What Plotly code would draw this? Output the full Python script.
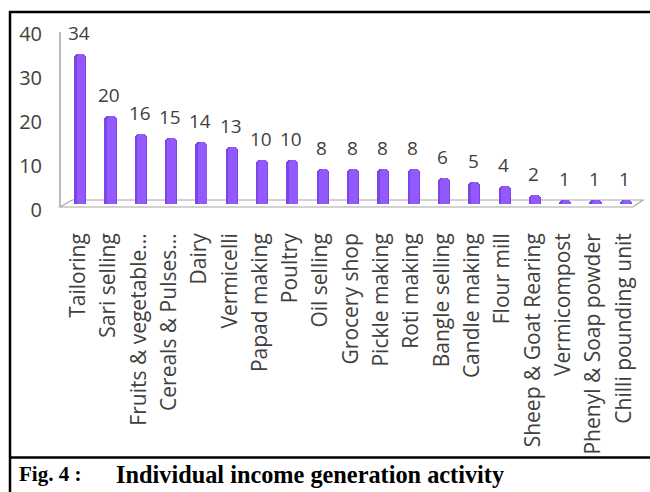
import plotly.graph_objects as go

# Income generation activities and number of individuals engaged in each
activities = [
    "Tailoring", "Sari selling", "Fruits & vegetable...", "Cereals & Pulses...",
    "Dairy", "Vermicelli", "Papad making", "Poultry", "Oil selling",
    "Grocery shop", "Pickle making", "Roti making", "Bangle selling",
    "Candle making", "Flour mill", "Sheep & Goat Rearing", "Vermicompost",
    "Phenyl & Soap powder", "Chilli pounding unit",
]
counts = [34, 20, 16, 15, 14, 13, 10, 10, 8, 8, 8, 8, 6, 5, 4, 2, 1, 1, 1]
y_ticks = [0, 10, 20, 30, 40]

caption_label = "Fig. 4 :"
caption_text = "Individual income generation activity"

# Plot area geometry in pixels (used to place decorations in paper units)
W, H = 650, 492
ML, MR, MT, MB = 65, 9, 28, 288
PW, PH = W - ML - MR, H - MT - MB


def px_x(px):
    return (px - ML) / PW


def px_y(py):
    return (H - MB - py) / PH


TEXT = "#404040"
GRID = "#a6a6a6"

fig = go.Figure()

# Cylinder body: darker full-width column with a lighter highlight column on top
fig.add_trace(go.Bar(
    x=activities, y=counts, width=0.4, offset=-0.2,
    marker=dict(color="#7a46e6", cornerradius=4, line=dict(width=0)),
    hoverinfo="x+y", showlegend=False,
))
fig.add_trace(go.Bar(
    x=activities, y=counts, width=0.29, offset=-0.12,
    marker=dict(color="#925afc", cornerradius=4, line=dict(width=0)),
    hoverinfo="skip", showlegend=False,
))

# Value labels above each column
for name, val in zip(activities, counts):
    fig.add_annotation(
        x=name, y=val, text=str(val), showarrow=False,
        yshift=21, xshift=-1, yanchor="middle",
        font=dict(family="Open Sans", size=19, color=TEXT),
    )

shapes = []
# Floor of the 3-D chart (thin parallelogram)
floor_path = "M {x0},{y0} L {x1},{y1} L {x2},{y2} L {x3},{y3} Z".format(
    x0=px_x(60), y0=px_y(207), x1=px_x(72), y1=px_y(200),
    x2=px_x(643), y2=px_y(200), x3=px_x(633), y3=px_y(207),
)
shapes.append(dict(type="path", xref="paper", yref="paper", path=floor_path,
                   line=dict(color=GRID, width=1.2), fillcolor="rgba(0,0,0,0)",
                   layer="below"))
# Vertical value axis line
shapes.append(dict(type="line", xref="paper", yref="paper",
                   x0=px_x(60), x1=px_x(60), y0=px_y(32), y1=px_y(207),
                   line=dict(color=GRID, width=1.5)))
# Figure frame: left edge, top edge, and caption separator
shapes.append(dict(type="line", xref="paper", yref="paper",
                   x0=px_x(10), x1=px_x(10), y0=px_y(11), y1=px_y(500),
                   line=dict(color="black", width=2.5)))
shapes.append(dict(type="line", xref="paper", yref="paper",
                   x0=px_x(9), x1=px_x(660), y0=px_y(12), y1=px_y(12),
                   line=dict(color="black", width=2.5)))
shapes.append(dict(type="line", xref="paper", yref="paper",
                   x0=px_x(9), x1=px_x(660), y0=px_y(457.5), y1=px_y(457.5),
                   line=dict(color="black", width=2.5)))

# Figure caption
fig.add_annotation(
    xref="paper", yref="paper", x=px_x(17), y=px_y(474),
    xanchor="left", yanchor="middle", showarrow=False, text=caption_label,
    font=dict(family="Liberation Serif", size=21, color="black", weight="bold"),
)
fig.add_annotation(
    xref="paper", yref="paper", x=px_x(114), y=px_y(474),
    xanchor="left", yanchor="middle", showarrow=False, text=caption_text,
    font=dict(family="Liberation Serif", size=24.3, color="black", weight="bold"),
)

fig.update_layout(
    width=W, height=H, autosize=False,
    margin=dict(l=ML, r=MR, t=MT, b=MB, pad=0),
    paper_bgcolor="white", plot_bgcolor="white",
    barmode="overlay", bargap=0,
    shapes=shapes,
    xaxis=dict(
        type="category", range=[-0.5, len(activities) - 0.5],
        tickangle=-90, showgrid=False, showline=False, zeroline=False,
        ticks="", ticklabelstandoff=24, ticklabelshift=-2,
        tickfont=dict(family="Open Sans", size=21, color=TEXT),
        fixedrange=True,
    ),
    yaxis=dict(
        range=[0, 40], tickvals=y_ticks, showgrid=False, showline=False,
        zeroline=False, ticks="", ticklabelstandoff=22, ticklabelshift=6,
        tickfont=dict(family="Open Sans", size=20, color=TEXT),
        fixedrange=True,
    ),
)

fig.write_html("out.html")
